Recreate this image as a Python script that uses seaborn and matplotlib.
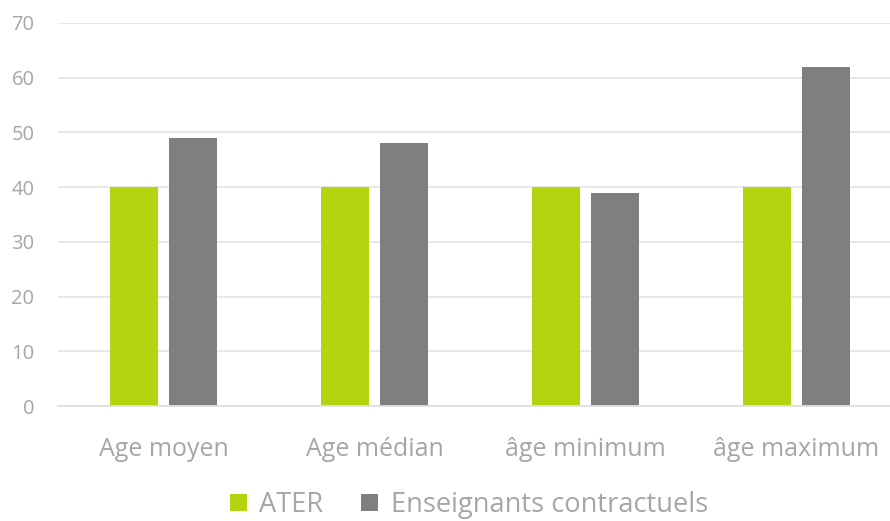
import matplotlib
matplotlib.use("Agg")
import matplotlib.pyplot as plt
import seaborn as sns
import pandas as pd

categories = ["Age moyen", "Age médian", "âge minimum", "âge maximum"]
series_names = ["ATER", "Enseignants contractuels"]
ater = [40, 40, 40, 40]
contractuels = [49, 48, 39, 62]
yticks = [0, 10, 20, 30, 40, 50, 60, 70]

df = pd.DataFrame({
    "cat": categories * 2,
    "serie": [series_names[0]] * 4 + [series_names[1]] * 4,
    "val": ater + contractuels,
})

sns.set_theme(style="white")
plt.rcParams["font.family"] = ["Open Sans", "DejaVu Sans"]

fig = plt.figure(figsize=(8.9, 5.21), dpi=100)
ax = fig.add_axes([58 / 890, 1 - 406 / 521, 844 / 890, (406 - 23) / 521])

palette = {"ATER": "#b5d40f", "Enseignants contractuels": "#7f7f7f"}
sns.barplot(data=df, x="cat", y="val", hue="serie", order=categories,
            hue_order=series_names, palette=palette, width=0.56, gap=0.2,
            saturation=1, linewidth=0, ax=ax, legend=True)

ax.set_ylim(0, 70)
ax.set_yticks(yticks)
ax.set_xlim(-0.5, 3.5)
ax.yaxis.grid(True, color="#e6e6e6", linewidth=1.3)
ax.set_axisbelow(True)
for s in ["top", "right", "left"]:
    ax.spines[s].set_visible(False)
ax.spines["bottom"].set_color("#e0e0e0")
ax.spines["bottom"].set_linewidth(1.3)
ax.set_xlabel("")
ax.set_ylabel("")
ax.tick_params(axis="y", labelsize=14.5, colors="#a6a6a6", length=0, pad=17)
ax.tick_params(axis="x", labelsize=18, colors="#a6a6a6", length=0, pad=22)

leg = ax.legend(loc="center", bbox_to_anchor=(469 / 890, 1 - 505 / 521),
                bbox_transform=fig.transFigure, ncol=2, frameon=False,
                fontsize=19.6, handlelength=0.62, handleheight=0.62,
                handletextpad=0.45, columnspacing=1.4, labelcolor="#a6a6a6")

fig.savefig("out.png", dpi=100)
